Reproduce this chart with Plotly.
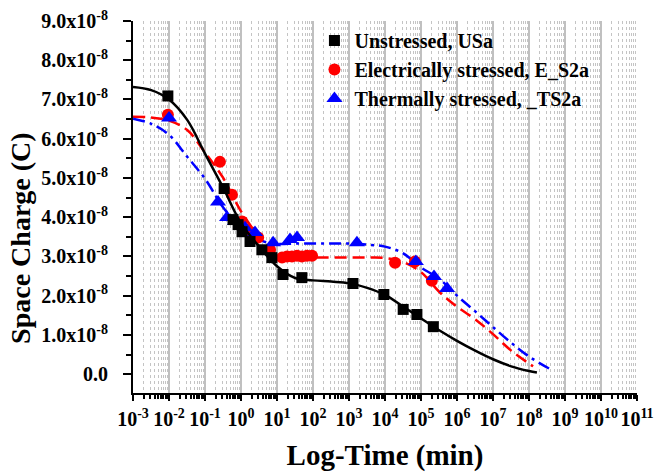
import plotly.graph_objects as go

# ---------------- data (time in min, charge in units of 1e-8 C) ----------------
us_t = [0.0093, 0.34, 0.60, 0.83, 1.07, 1.78, 3.8, 7.2, 14.7, 49, 1290, 9300, 3.2e4, 7.7e4, 2.2e5]
us_q = [7.09, 4.73, 3.94, 3.81, 3.63, 3.38, 3.17, 2.97, 2.54, 2.46, 2.31, 2.03, 1.65, 1.52, 1.21]

es_t = [0.0093, 0.26, 0.56, 1.07, 1.47, 2.0, 3.0, 6.4, 13.8, 19, 26, 36, 49, 68, 94, 1.9e4, 6.8e4, 2.0e5]
es_q = [6.61, 5.41, 4.57, 3.89, 3.68, 3.61, 3.48, 3.17, 2.97, 3.00, 3.00, 3.02, 3.00, 3.02, 3.02, 2.84, 2.87, 2.38]

ts_t = [0.01, 0.23, 0.41, 0.68, 1.29, 2.45, 7.8, 23, 36, 1660, 7.2e4, 2.3e5, 5.3e5]
ts_q = [6.53, 4.39, 3.99, 3.89, 3.73, 3.61, 3.35, 3.43, 3.48, 3.35, 2.87, 2.49, 2.18]

# fitted curves (half-decade steps)
us_fit_t = [1e-3, 3.2e-3, 1e-2, 3.2e-2, 0.1, 0.32, 1, 3.2, 10, 32, 100, 320, 1e3, 3.2e3, 1e4,
            3.2e4, 1e5, 3.2e5, 1e6, 3.2e6, 1e7, 3.2e7, 1e8, 1.66e8]
us_fit_q = [7.32, 7.24, 7.00, 6.48, 5.62, 4.75, 3.85, 3.25, 2.75, 2.45, 2.39, 2.36, 2.32, 2.20, 2.02,
            1.72, 1.42, 1.12, 0.85, 0.60, 0.38, 0.20, 0.08, 0.04]

es_fit_t = [1e-3, 3.2e-3, 1e-2, 3.2e-2, 0.1, 0.32, 1, 3.2, 10, 32, 100, 320, 1e3, 3.2e3, 1e4,
            3.2e4, 1e5, 3.2e5, 1e6, 3.2e6, 1e7, 3.2e7, 1e8, 1.3e8]
es_fit_q = [6.56, 6.54, 6.46, 6.22, 5.65, 5.00, 4.15, 3.50, 3.02, 2.97, 2.97, 2.97, 2.97, 2.97, 2.96,
            2.86, 2.60, 2.10, 1.72, 1.40, 1.02, 0.60, 0.27, 0.20]

ts_fit_t = [1e-3, 3.2e-3, 1e-2, 3.2e-2, 0.1, 0.32, 1, 3.2, 10, 32, 100, 320, 1e3, 3.2e3, 1e4,
            3.2e4, 1e5, 3.2e5, 1e6, 3.2e6, 1e7, 3.2e7, 1e8, 4.4e8]
ts_fit_q = [6.51, 6.38, 6.10, 5.54, 4.98, 4.25, 3.75, 3.42, 3.32, 3.33, 3.33, 3.33, 3.33, 3.30, 3.25,
            3.08, 2.72, 2.43, 2.00, 1.60, 1.20, 0.80, 0.45, 0.10]

x_exps = list(range(-3, 12))
y_ticks = [0, 1, 2, 3, 4, 5, 6, 7, 8, 9]

names = ["Unstressed, USa", "Electrically stressed, E_S2a", "Thermally stressed, _TS2a"]
colors = ["black", "#ff0000", "#0000ff"]

FONT = "Liberation Serif"

fig = go.Figure()

# fitted curves
fig.add_trace(go.Scatter(x=es_fit_t, y=es_fit_q, mode="lines", showlegend=False,
                         line=dict(color=colors[1], width=2.5, dash="12px,6px", shape="spline", smoothing=1)))
fig.add_trace(go.Scatter(x=ts_fit_t, y=ts_fit_q, mode="lines", showlegend=False,
                         line=dict(color=colors[2], width=2.5, dash="12px,5px,3px,5px", shape="spline", smoothing=1)))

# markers
fig.add_trace(go.Scatter(x=es_t, y=es_q, mode="markers", name="<b>" + names[1] + "</b>", legendrank=2,
                         marker=dict(symbol="circle", size=12, color=colors[1])))
fig.add_trace(go.Scatter(x=ts_t, y=ts_q, mode="markers", name="<b>" + names[2] + "</b>", legendrank=3,
                         marker=dict(symbol="triangle-up", size=14, color=colors[2])))
fig.add_trace(go.Scatter(x=us_fit_t, y=us_fit_q, mode="lines", showlegend=False,
                         line=dict(color=colors[0], width=2.5, shape="spline", smoothing=1)))
fig.add_trace(go.Scatter(x=us_t, y=us_q, mode="markers", name="<b>" + names[0] + "</b>", legendrank=1,
                         marker=dict(symbol="square", size=11, color=colors[0])))

minor_vals = [m * 10.0 ** e for e in range(-3, 11) for m in range(2, 10)]

fig.update_xaxes(
    type="log", range=[-3, 11], automargin=False,
    tickvals=[10.0 ** e for e in x_exps],
    ticktext=["<b>10<sup>%d</sup></b>" % e for e in x_exps],
    ticks="outside", ticklen=6, tickwidth=2, tickcolor="black",
    ticklabelstandoff=1,
    showline=True, linecolor="black", linewidth=2,
    showgrid=True, gridcolor="#c0c0c0", gridwidth=2,
    zeroline=False,
    tickfont=dict(family=FONT, size=20, color="black"),
    minor=dict(tickvals=minor_vals, ticks="outside", ticklen=4, tickwidth=1.5, tickcolor="black",
               showgrid=True, gridcolor="#c4c4c4", griddash="dot", gridwidth=1),
    title=dict(text="<b>Log-Time (min)</b>", font=dict(family=FONT, size=29, color="black"), standoff=20),
)

fig.update_yaxes(
    range=[-0.48, 9.0], automargin=False,
    tickvals=y_ticks,
    ticktext=["<b>0.0</b>"] + ["<b>%d.0x10<sup>-8</sup></b>" % v for v in y_ticks[1:]],
    ticks="outside", ticklen=8, tickwidth=2, tickcolor="black",
    ticklabelstandoff=11,
    showline=True, linecolor="black", linewidth=2,
    showgrid=False, zeroline=False,
    tickfont=dict(family=FONT, size=20, color="black"),
    minor=dict(dtick=0.5, ticks="outside", ticklen=5, tickwidth=1.5, tickcolor="black", showgrid=False),
)

fig.add_shape(type="rect", xref="paper", yref="paper", x0=0.3056, x1=1.0, y0=0.755, y1=1.0,
              fillcolor="white", line=dict(width=0), layer="between")

fig.add_annotation(text="<b>Space Charge (C)</b>", xref="paper", yref="paper", x=0, y=0.417,
                   xshift=-112, xanchor="center", yanchor="middle", textangle=-90, showarrow=False,
                   font=dict(family=FONT, size=28, color="black"))

fig.update_layout(
    width=654, height=472,
    margin=dict(l=133, r=17, t=21, b=79),
    paper_bgcolor="white", plot_bgcolor="white",
    legend=dict(x=0.36, y=1.0, xanchor="left", yanchor="top", bgcolor="rgba(0,0,0,0)",
                font=dict(family=FONT, size=20, color="black"), tracegroupgap=0),
    showlegend=True,
)

fig.write_html("out.html")
